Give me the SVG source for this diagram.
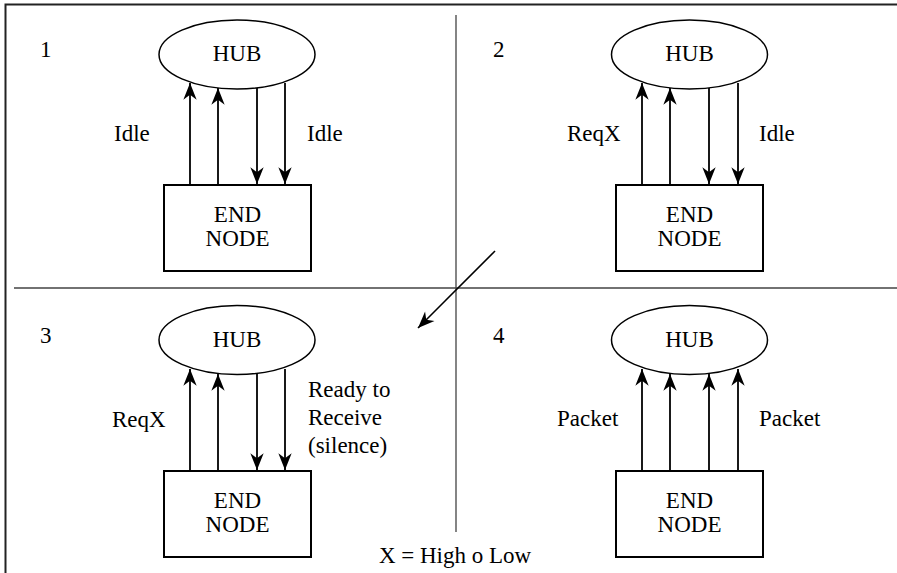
<svg xmlns="http://www.w3.org/2000/svg" width="897" height="573" viewBox="0 0 897 573">
<style>
text{font-family:'Liberation Serif','Times New Roman','DejaVu Serif',serif;font-size:23px;fill:#000}
.c{text-anchor:middle}
.hub{fill:#fff;stroke:#000;stroke-width:1.5}
.box{fill:#fff;stroke:#000;stroke-width:2}
.frame{stroke:#222;stroke-width:2;fill:none}
.div{stroke:#444;stroke-width:1.3;fill:none}
.a{stroke:#000;stroke-width:1.8;fill:none;marker-end:url(#ah)}
</style>
<defs>
<marker id="ah" markerUnits="userSpaceOnUse" markerWidth="20" markerHeight="20" viewBox="-16 -8 18 16" refX="0" refY="0" orient="auto">
<path d="M0,0 L-15,-6 L-10.5,0 L-15,6 Z" fill="#000"/>
</marker>
</defs>
<rect width="897" height="573" fill="#fff"/>
<g id="frame">
<path class="frame" d="M5.5,573 V4.5 H897"/>
<path class="div" d="M14,288 H897 M456,15 V532"/>
</g>
<g font-family="Liberation Serif, Times New Roman, DejaVu Serif, serif" font-size="23">
<g id="q1">
<text x="40" y="57">1</text>
<g id="hub1"><ellipse class="hub" cx="237" cy="54.5" rx="78" ry="34.5"/><text class="c" x="237" y="61">HUB</text></g>
<g id="end1"><rect class="box" x="164" y="185" width="147" height="86"/><text class="c" x="237.5" y="222">END</text><text class="c" x="237.5" y="246">NODE</text></g>
<text x="114" y="141">Idle</text>
<text x="307" y="141">Idle</text>
</g>
<g id="q2">
<text x="493" y="57">2</text>
<g id="hub2"><ellipse class="hub" cx="689.5" cy="54.5" rx="78" ry="34.5"/><text class="c" x="689.5" y="61">HUB</text></g>
<g id="end2"><rect class="box" x="616" y="185" width="147" height="86"/><text class="c" x="689.5" y="222">END</text><text class="c" x="689.5" y="246">NODE</text></g>
<text x="567" y="141">ReqX</text>
<text x="759" y="141">Idle</text>
</g>
<g id="q3">
<text x="40" y="343">3</text>
<g id="hub3"><ellipse class="hub" cx="237" cy="340" rx="78" ry="34.5"/><text class="c" x="237" y="347">HUB</text></g>
<g id="end3"><rect class="box" x="164" y="471" width="147" height="86"/><text class="c" x="237.5" y="508">END</text><text class="c" x="237.5" y="532">NODE</text></g>
<text x="112" y="427">ReqX</text>
<text x="308" y="397">Ready to</text>
<text x="308" y="425">Receive</text>
<text x="308" y="453">(silence)</text>
</g>
<g id="q4">
<text x="493" y="343">4</text>
<g id="hub4"><ellipse class="hub" cx="689.5" cy="340" rx="78" ry="34.5"/><text class="c" x="689.5" y="347">HUB</text></g>
<g id="end4"><rect class="box" x="616" y="471" width="147" height="86"/><text class="c" x="689.5" y="508">END</text><text class="c" x="689.5" y="532">NODE</text></g>
<text x="557" y="426">Packet</text>
<text x="759" y="426">Packet</text>
</g>
<text class="c" x="455" y="563">X = High o Low</text>
</g>
<g id="connectors">
<path class="a" d="M190,185 V83"/>
<path class="a" d="M218,185 V88"/>
<path class="a" d="M257,88 V184"/>
<path class="a" d="M285,83 V184"/>
<path class="a" d="M642,185 V83"/>
<path class="a" d="M670,185 V88"/>
<path class="a" d="M709,88 V184"/>
<path class="a" d="M738,83 V184"/>
<path class="a" d="M190,471 V369"/>
<path class="a" d="M218,471 V374"/>
<path class="a" d="M257,374 V470"/>
<path class="a" d="M285,369 V470"/>
<path class="a" d="M642,471 V369"/>
<path class="a" d="M670,471 V374"/>
<path class="a" d="M709,471 V374"/>
<path class="a" d="M738,471 V369"/>
<path class="a" d="M495,251 L418,328" style="stroke-width:1.6"/>
</g>
</svg>
